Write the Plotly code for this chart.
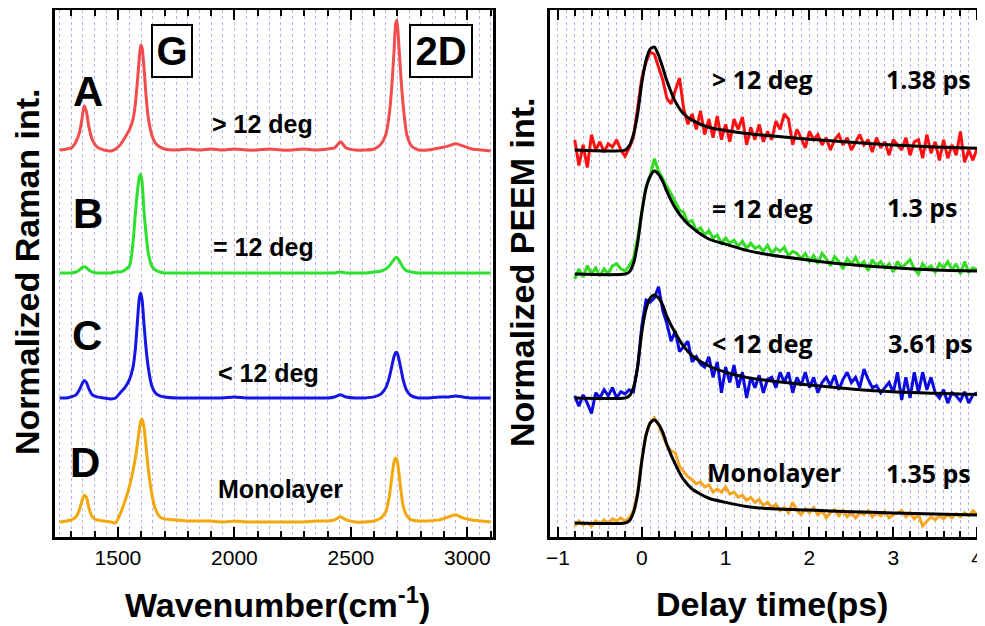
import plotly.graph_objects as go

# ---------------- Left panel: Raman spectra ----------------
WAVENUMBER = [1250, 1280, 1300, 1320, 1335, 1345, 1355, 1365, 1375, 1390,
              1410, 1440, 1470, 1490, 1510, 1530, 1550, 1565, 1575, 1585,
              1592, 1598, 1604, 1612, 1620, 1630, 1645, 1660, 1680, 1700,
              1750, 1800, 1850, 1900, 1950, 2000, 2050, 2100, 2150, 2200,
              2250, 2300, 2350, 2400, 2430, 2455, 2480, 2520, 2560, 2600,
              2630, 2650, 2665, 2675, 2685, 2692, 2698, 2705, 2715, 2725,
              2740, 2760, 2790, 2830, 2880, 2920, 2950, 2980, 3020, 3060,
              3100]

RAMAN_A = [0.0, 0.01, 0.02, 0.08, 0.17, 0.29, 0.43, 0.37, 0.23, 0.1,
           0.03, 0.0, -0.01, 0.01, 0.05, 0.12, 0.2, 0.3, 0.45, 0.7,
           0.9, 1.02, 0.99, 0.8, 0.55, 0.32, 0.15, 0.07, 0.03, 0.01,
           0.0, 0.01, 0.0, 0.01, 0.0, 0.01, 0.0, 0.0, 0.01, 0.0,
           0.0, 0.01, 0.0, 0.01, 0.02, 0.08, 0.02, 0.0, 0.0, 0.01,
           0.06, 0.15, 0.35, 0.6, 0.95, 1.22, 1.26, 1.05, 0.7, 0.42,
           0.15, 0.04, 0.0, 0.0, 0.02, 0.04, 0.06, 0.04, 0.01, 0.0,
           -0.01]
RAMAN_B = [0.0, 0.0, 0.0, 0.01, 0.03, 0.05, 0.06, 0.05, 0.03, 0.01,
           0.0, 0.0, 0.0, 0.01, 0.01, 0.03, 0.07, 0.3, 0.58, 0.82,
           0.93, 0.96, 0.88, 0.6, 0.4, 0.2, 0.07, 0.03, 0.01, 0.0,
           0.0, 0.0, 0.0, 0.0, 0.0, 0.0, 0.0, 0.0, 0.0, 0.0,
           0.0, 0.0, 0.0, 0.0, 0.0, 0.01, 0.0, 0.0, 0.0, 0.01,
           0.02, 0.04, 0.07, 0.1, 0.13, 0.15, 0.15, 0.13, 0.09, 0.05,
           0.02, 0.01, 0.0, 0.0, 0.0, 0.0, 0.0, 0.0, 0.0, 0.0,
           0.0]
RAMAN_C = [0.0, 0.0, 0.01, 0.03, 0.08, 0.13, 0.17, 0.15, 0.09, 0.03,
           0.01, 0.0, -0.01, 0.0, 0.05, 0.1, 0.18, 0.3, 0.48, 0.78,
           0.97, 1.02, 0.95, 0.72, 0.5, 0.3, 0.12, 0.05, 0.02, 0.01,
           0.0, 0.0, 0.0, 0.0, 0.0, 0.01, 0.0, 0.0, 0.0, 0.0,
           0.0, 0.0, 0.0, 0.0, 0.01, 0.03, 0.01, 0.0, 0.0, 0.01,
           0.04, 0.1, 0.2, 0.3, 0.4, 0.44, 0.44, 0.39, 0.28, 0.17,
           0.07, 0.02, 0.0, 0.0, 0.01, 0.01, 0.02, 0.01, 0.0, 0.0,
           0.0]
RAMAN_D = [0.0, 0.01, 0.02, 0.05, 0.12, 0.2, 0.26, 0.24, 0.14, 0.05,
           0.02, 0.01, 0.0, -0.01, 0.08, 0.2, 0.35, 0.5, 0.62, 0.78,
           0.9, 0.98, 1.0, 0.92, 0.75, 0.52, 0.28, 0.13, 0.05, 0.03,
           0.02, 0.01, 0.01, 0.01, 0.0, 0.01, 0.0, 0.0, 0.0, 0.0,
           0.0, 0.0, 0.01, 0.01, 0.02, 0.05, 0.02, 0.0, 0.0, 0.01,
           0.04, 0.1, 0.25, 0.42, 0.58, 0.62, 0.6, 0.5, 0.3, 0.15,
           0.06, 0.02, 0.01, 0.01, 0.02, 0.05, 0.07, 0.04, 0.02, 0.01,
           0.0]
RAMAN_SERIES = [RAMAN_A, RAMAN_B, RAMAN_C, RAMAN_D]
RAMAN_OFFSETS = [3.757, 2.563, 1.35, 0.146]
RAMAN_COLORS = ["#f24c4c", "#2ee02e", "#1515e6", "#f5a70a"]
PANEL_LETTERS = ["A", "B", "C", "D"]
SAMPLE_LABELS = ["&gt; 12 deg", "= 12 deg", "&lt; 12 deg", "Monolayer"]
LIFETIMES = ["1.38 ps", "1.3 ps", "3.61 ps", "1.35 ps"]

# ---------------- Right panel: PEEM transients ----------------
DELAY = [round(-0.8 + 0.05 * i, 2) for i in range(97)]

PEEM_A = [0.1, -0.15, 0.05, -0.17, 0.15, 0.0, 0.08, -0.02, 0.06, 0.03,
          0.1, 0.0, -0.06, 0.02, 0.12, 0.4, 0.7, 0.85, 0.95, 0.93,
          0.8, 0.68, 0.5, 0.45, 0.58, 0.7, 0.4, 0.25, 0.35, 0.2,
          0.38, 0.15, 0.3, 0.12, 0.33, 0.1, 0.25, 0.08, 0.3, 0.2,
          0.32, 0.05, 0.22, 0.1, 0.25, 0.08, 0.18, 0.1, 0.28, 0.2,
          0.35, 0.3, 0.05, 0.2, 0.12, 0.02, 0.18, 0.1, 0.15, 0.05,
          0.12, 0.0, 0.1, 0.15, 0.05, 0.12, 0.0, 0.08, 0.15, 0.05,
          0.1, -0.02, 0.12, 0.02, 0.08, -0.05, 0.1, 0.05, 0.0, 0.12,
          -0.05, 0.08, 0.1, -0.08, 0.15, -0.03, 0.08, -0.1, 0.1, -0.08,
          0.05, -0.05, 0.18, -0.12, 0.0, -0.1, 0.02]
PEEM_B = [-0.05, 0.05, -0.03, 0.08, 0.0, 0.06, -0.02, 0.05, 0.0, 0.08,
          0.1, 0.05, 0.03, 0.08, 0.15, 0.35, 0.6, 0.85, 0.95, 1.12,
          1.0, 0.92, 0.85, 0.78, 0.7, 0.62, 0.6, 0.5, 0.52, 0.42,
          0.45, 0.38, 0.42, 0.35, 0.38, 0.3, 0.35, 0.3, 0.33, 0.27,
          0.32, 0.25, 0.3, 0.25, 0.27, 0.22, 0.28, 0.2, 0.25, 0.22,
          0.26, 0.18, 0.22, 0.2, 0.15, 0.2, 0.12, 0.18, 0.1, 0.2,
          0.15, 0.08, 0.17, 0.12, 0.05, 0.15, 0.1, 0.16, 0.08, 0.12,
          0.03, 0.14, 0.08, 0.12, 0.06, 0.1, 0.02, 0.12, 0.06, 0.1,
          0.14, 0.05, 0.0, 0.1, 0.05, 0.08, 0.02, 0.1, 0.06, 0.12,
          0.04, 0.1, 0.0, 0.12, 0.02, 0.06, 0.04]
PEEM_C = [0.02, -0.08, 0.03, -0.05, -0.15, 0.05, 0.0, 0.08, 0.02, 0.1,
          0.0, 0.06, 0.04, 0.08, 0.06, 0.3, 0.7, 0.95, 0.93, 0.97,
          1.08, 0.85, 0.72, 0.55, 0.65, 0.45, 0.5, 0.55, 0.35, 0.4,
          0.33, 0.3, 0.4, 0.2, 0.35, 0.05, 0.3, 0.15, 0.32, 0.1,
          0.25, 0.0, 0.2, 0.1, 0.22, 0.05, 0.18, 0.2, 0.1, 0.25,
          0.15, 0.25, 0.05, 0.2, 0.12, 0.25, 0.1, 0.2, 0.05, 0.15,
          0.2, 0.12, 0.22, 0.08, 0.18, 0.25, 0.15, 0.2, 0.1, 0.28,
          0.18, 0.1, 0.12, 0.05, 0.1, 0.15, 0.05, 0.25, -0.02, 0.2,
          0.0, 0.25, 0.05, 0.25, 0.08, 0.2, 0.05, 0.0, 0.08, -0.05,
          0.05, 0.02, -0.03, 0.06, -0.05, 0.03, 0.05]
PEEM_D = [-0.03, 0.02, -0.02, 0.0, -0.03, 0.02, -0.01, 0.03, 0.0, 0.04,
          0.02, 0.05, 0.02, 0.05, 0.12, 0.3, 0.62, 0.86, 0.97, 1.02,
          0.95, 0.85, 0.75, 0.7, 0.68, 0.55, 0.5, 0.45, 0.42, 0.38,
          0.4, 0.35, 0.37, 0.3, 0.33, 0.3, 0.35, 0.28, 0.3, 0.25,
          0.27, 0.22, 0.25, 0.2, 0.23, 0.17, 0.2, 0.15, 0.18, 0.12,
          0.15, 0.1, 0.2, 0.12, 0.08, 0.14, 0.1, 0.15, 0.08, 0.12,
          0.05, 0.1, 0.13, 0.07, 0.12, 0.06, 0.1, 0.05, 0.1, 0.08,
          0.12, 0.06, 0.1, 0.07, 0.11, 0.05, 0.08, 0.1, 0.12, 0.06,
          0.1, 0.04, 0.08, -0.03, 0.02, 0.06, 0.03, 0.07, 0.04, 0.08,
          0.05, 0.09, 0.06, 0.1, 0.07, 0.12, 0.08]

FIT_TIME = [-0.8, -0.2, -0.15, -0.1, -0.05, 0.0, 0.05, 0.1, 0.15, 0.2,
            0.25, 0.3, 0.4, 0.5, 0.6, 0.8, 1.0, 1.25, 1.5, 2.0,
            2.5, 3.0, 3.5, 4.0]
FIT_A = [0.0, 0.0, 0.04, 0.15, 0.35, 0.65, 0.87, 0.98, 1.0, 0.92,
         0.8, 0.67, 0.47, 0.35, 0.29, 0.22, 0.19, 0.16, 0.14, 0.105,
         0.075, 0.05, 0.03, 0.017]
FIT_B = [0.0, 0.0, 0.02, 0.1, 0.3, 0.6, 0.83, 0.95, 1.0, 0.97,
         0.9, 0.8, 0.64, 0.53, 0.45, 0.34, 0.29, 0.23, 0.19, 0.135,
         0.09, 0.06, 0.04, 0.03]
FIT_C = [0.0, 0.0, 0.02, 0.1, 0.3, 0.64, 0.86, 0.97, 1.0, 0.97,
         0.9, 0.79, 0.63, 0.5, 0.41, 0.31, 0.25, 0.2, 0.17, 0.125,
         0.088, 0.06, 0.045, 0.033]
FIT_D = [0.0, 0.0, 0.02, 0.1, 0.28, 0.6, 0.85, 0.97, 1.0, 0.96,
         0.88, 0.76, 0.57, 0.42, 0.33, 0.24, 0.2, 0.16, 0.14, 0.125,
         0.11, 0.098, 0.088, 0.078]
PEEM_SERIES = [PEEM_A, PEEM_B, PEEM_C, PEEM_D]
FIT_SERIES = [FIT_A, FIT_B, FIT_C, FIT_D]
PEEM_OFFSETS = [3.757, 2.553, 1.35, 0.136]
PEEM_COLORS = ["#ff1010", "#33dd22", "#0a0ae0", "#f5a623"]

# page body has an 8px default margin: the figure is sized/positioned to compensate
BODY = 8
W, H = 985 - BODY, 626 - BODY
FONT = "Liberation Sans, Arial, sans-serif"
FONT_R = "Open Sans, Liberation Sans, sans-serif"
GRID = "rgba(120,120,215,0.55)"


def px(x):
    return (x - BODY) / W


def py(y):
    return 1 - (y - BODY) / H


fig = go.Figure()

# empty helper traces so the grid-only overlay axes are drawn
fig.add_trace(go.Scatter(x=[], y=[], xaxis="x3", yaxis="y", showlegend=False))
fig.add_trace(go.Scatter(x=[], y=[], xaxis="x4", yaxis="y2", showlegend=False))

for vals, off, col in zip(RAMAN_SERIES, RAMAN_OFFSETS, RAMAN_COLORS):
    fig.add_trace(go.Scatter(
        x=WAVENUMBER, y=[v + off for v in vals], mode="lines",
        line=dict(color=col, width=3, shape="spline", smoothing=0.6),
        xaxis="x", yaxis="y", showlegend=False, hoverinfo="skip"))

for vals, fit, off, col in zip(PEEM_SERIES, FIT_SERIES, PEEM_OFFSETS, PEEM_COLORS):
    fig.add_trace(go.Scatter(
        x=DELAY, y=[v + off for v in vals], mode="lines",
        line=dict(color=col, width=3),
        xaxis="x2", yaxis="y2", showlegend=False, hoverinfo="skip"))
    fig.add_trace(go.Scatter(
        x=FIT_TIME, y=[v + off for v in fit], mode="lines",
        line=dict(color="black", width=3, shape="spline", smoothing=0.7),
        xaxis="x2", yaxis="y2", showlegend=False, hoverinfo="skip"))

XL = [1230, 3110]
XR = [-1.095, 4.07]
YR = [0, 527 / 103]
dom_y = [py(537), py(10)]
dom_l = [px(55), px(493)]
dom_r = [px(550), px(983)]

tickfont = dict(family=FONT, size=21, color="black")
axis_common = dict(showline=True, linecolor="black", linewidth=2.5, mirror="ticks",
                   ticks="inside", tickcolor="black", tickwidth=2, ticklen=10,
                   showgrid=False, zeroline=False, tickfont=tickfont, automargin=False)
yaxis_common = dict(showline=True, linecolor="black", linewidth=2.5, mirror=True,
                    ticks="", showticklabels=False, showgrid=False, zeroline=False,
                    automargin=False)

fig.update_layout(
    width=W, height=H, margin=dict(l=0, r=0, t=0, b=0, autoexpand=False),
    paper_bgcolor="white", plot_bgcolor="white", showlegend=False,
    xaxis=dict(domain=dom_l, range=XL, anchor="y", tick0=0, dtick=500,
               minor=dict(dtick=100, ticks="inside", ticklen=6, tickwidth=2,
                          tickcolor="black", showgrid=False),
               **axis_common),
    xaxis3=dict(domain=dom_l, range=XL, overlaying="x", anchor="y", tick0=0, dtick=50,
                showgrid=True, gridcolor=GRID, griddash="dot", gridwidth=1,
                showticklabels=False, ticks="", showline=False, zeroline=False,
                automargin=False),
    yaxis=dict(domain=dom_y, range=YR, anchor="x", **yaxis_common),
    xaxis2=dict(domain=dom_r, range=XR, anchor="y2", tick0=0, dtick=1,
                minor=dict(dtick=0.2, ticks="inside", ticklen=6, tickwidth=2,
                           tickcolor="black", showgrid=False),
                **axis_common),
    xaxis4=dict(domain=dom_r, range=XR, overlaying="x2", anchor="y2", tick0=0, dtick=0.1,
                showgrid=True, gridcolor=GRID, griddash="dot", gridwidth=1,
                showticklabels=False, ticks="", showline=False, zeroline=False,
                automargin=False),
    yaxis2=dict(domain=dom_y, range=YR, anchor="x2", **yaxis_common),
)

ann = []


def add_text(text, x, y, size, bold=True, angle=0, family=FONT):
    t = f"<b>{text}</b>" if bold else text
    ann.append(dict(text=t, x=px(x), y=py(y), xref="paper", yref="paper",
                    showarrow=False, textangle=angle, xanchor="center", yanchor="middle",
                    font=dict(family=family, size=size, color="black")))


# axis titles
add_text("Wavenumber(cm<sup>-1</sup>)", 277, 602, 34)
add_text("Delay time(ps)", 772, 604, 34)
add_text("Normalized Raman int.", 27, 272, 34, angle=-90)
add_text("Normalized PEEM int.", 522, 272, 34, angle=-90)

# panel letters and labels (left)
letter_pos = [(88, 92), (88, 213), (87, 335), (85, 462)]
label_pos_l = [(262, 124), (263, 247), (268, 373), (280, 489)]
for (lx, ly), letter in zip(letter_pos, PANEL_LETTERS):
    add_text(letter, lx, ly, 42)
for (lx, ly), lab in zip(label_pos_l, SAMPLE_LABELS):
    add_text(lab, lx, ly, 25)

# right panel labels
label_pos_r = [(762, 79), (762, 208), (762, 343), (774, 472)]
life_pos = [(928, 79), (922, 207), (930, 343), (928, 473)]
for (lx, ly), lab in zip(label_pos_r, SAMPLE_LABELS):
    add_text(lab, lx, ly, 25, family=FONT_R)
for (lx, ly), lab in zip(life_pos, LIFETIMES):
    add_text(lab, lx, ly, 25, family=FONT_R)

# G and 2D boxes
for txt, x, y, w in [("G", 172, 51, 38), ("2D", 441, 51, 60)]:
    ann.append(dict(text=f"<b>{txt}</b>", x=px(x), y=py(y), xref="paper", yref="paper",
                    showarrow=False, xanchor="center", yanchor="middle",
                    width=w, height=50, bordercolor="black", borderwidth=2, borderpad=0,
                    bgcolor="white", font=dict(family=FONT, size=40, color="black")))

fig.update_layout(annotations=ann)
fig.write_html("out.html")
